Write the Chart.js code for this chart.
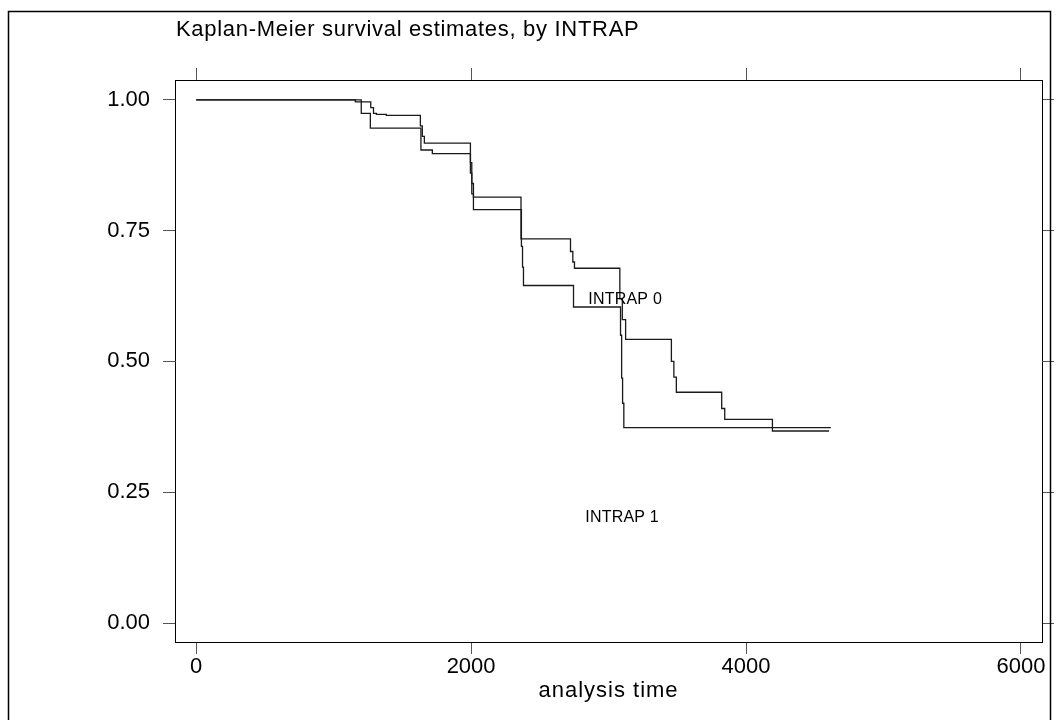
<!DOCTYPE html>
<html lang="en">
<head>
  <meta charset="UTF-8">
  <title>Kaplan-Meier survival estimates</title>
  <style>
    html, body { margin: 0; padding: 0; background: #fff; }
  </style>
</head>
<body>

  <canvas id="myChart" width="1058" height="720"></canvas>

  <script src="https://cdn.jsdelivr.net/npm/chart.js"></script>
  <script>
// survival step data (event time, survival after event)
const timeA = [0, 1201, 1267, 1635, 1718, 1995, 2005, 2017, 2366, 2374, 2381, 2745, 3087, 3095, 3102, 3111, 4617];
const survA = [1.0, 0.974, 0.946, 0.904, 0.897, 0.86, 0.82, 0.790, 0.72, 0.68, 0.645, 0.604, 0.55, 0.468, 0.42, 0.3735, 0.3735];

const timeB = [0, 1158, 1270, 1290, 1311, 1383, 1631, 1645, 1660, 1995, 2005, 2017, 2363, 2723, 2740, 2752, 3082, 3100, 3124, 3457, 3475, 3493, 3823, 3845, 4192, 4604];
const survB = [1.0, 0.996, 0.985, 0.974, 0.972, 0.970, 0.95, 0.93, 0.917, 0.88, 0.84, 0.814, 0.734, 0.71, 0.69, 0.678, 0.62, 0.58, 0.542, 0.50, 0.47, 0.441, 0.41, 0.389, 0.367, 0.367];

const xTicks = [0, 2000, 4000, 6000];
const yTicks = [0, 0.25, 0.5, 0.75, 1];

const groupLabels = ['INTRAP 0', 'INTRAP 1'];
const groupLabelX = [2853, 2831];
const groupLabelY = [0.619, 0.202];

const chartTitle = 'Kaplan-Meier survival estimates, by INTRAP';
const xTitle = 'analysis time';

const FONT = '"Liberation Sans", Arial, sans-serif';

const toPoints = (ts, ss) => ts.map((t, i) => ({ x: t, y: ss[i] }));

const frameAndText = {
    id: 'frameAndText',
    afterDraw: (chart) => {
        const ctx = chart.ctx;
        const xs = chart.scales.x;
        const ys = chart.scales.y;
        const area = chart.chartArea;
        ctx.save();
        // outer frame
        ctx.strokeStyle = '#000';
        ctx.lineWidth = 1.5;
        ctx.strokeRect(8.5, 11.5, 1042, 720);
        // title
        ctx.fillStyle = '#000';
        ctx.font = '22px ' + FONT;
        ctx.letterSpacing = '0.7px';
        ctx.textAlign = 'left';
        ctx.textBaseline = 'alphabetic';
        ctx.fillText(chartTitle, 176, 36);
        // x axis title
        ctx.letterSpacing = '1px';
        ctx.textAlign = 'center';
        ctx.fillText(xTitle, (area.left + area.right) / 2, 697);
        // group labels
        ctx.letterSpacing = '0.2px';
        ctx.font = '16px ' + FONT;
        ctx.textAlign = 'left';
        ctx.textBaseline = 'middle';
        groupLabels.forEach((txt, i) => {
            ctx.fillText(txt, xs.getPixelForValue(groupLabelX[i]), ys.getPixelForValue(groupLabelY[i]));
        });
        ctx.restore();
    }
};

const tickGrid = { drawOnChartArea: false, drawTicks: true, tickLength: 12, color: '#555' };
const boxBorder = { display: true, color: '#000', width: 1 };

const ctx = document.getElementById('myChart').getContext('2d');

const myChart = new Chart(ctx, {
    type: 'line',
    data: {
        datasets: [
            {
                label: 'INTRAP 0',
                data: toPoints(timeA, survA),
                borderColor: '#1a1a1a',
                borderWidth: 1.3,
                stepped: 'before',
                pointRadius: 0,
                fill: false
            },
            {
                label: 'INTRAP 1',
                data: toPoints(timeB, survB),
                borderColor: '#1a1a1a',
                borderWidth: 1.3,
                stepped: 'before',
                pointRadius: 0,
                fill: false
            }
        ]
    },
    options: {
        responsive: false,
        animation: false,
        layout: { padding: { top: 68, right: 4, bottom: 0, left: 0 } },
        scales: {
            x: {
                type: 'linear',
                position: 'bottom',
                min: -154,
                max: 6153,
                afterBuildTicks: (s) => { s.ticks = xTicks.map(v => ({ value: v })); },
                afterFit: (s) => { s.height = 78; },
                grid: tickGrid,
                border: boxBorder,
                ticks: {
                    color: '#000',
                    padding: 0,
                    font: { family: FONT, size: 22 },
                    callback: (v) => String(v)
                }
            },
            x2: {
                type: 'linear',
                position: 'top',
                min: -154,
                max: 6153,
                afterBuildTicks: (s) => { s.ticks = xTicks.map(v => ({ value: v })); },
                afterFit: (s) => { s.height = 12; },
                grid: tickGrid,
                border: boxBorder,
                ticks: { display: false }
            },
            y: {
                type: 'linear',
                position: 'left',
                min: -0.0363,
                max: 1.0378,
                afterBuildTicks: (s) => { s.ticks = yTicks.map(v => ({ value: v })); },
                afterFit: (s) => { s.width = 175; },
                grid: tickGrid,
                border: boxBorder,
                ticks: {
                    color: '#000',
                    padding: 13,
                    font: { family: FONT, size: 22 },
                    callback: (v) => Number(v).toFixed(2)
                }
            },
            y2: {
                type: 'linear',
                position: 'right',
                min: -0.0363,
                max: 1.0378,
                afterBuildTicks: (s) => { s.ticks = yTicks.map(v => ({ value: v })); },
                afterFit: (s) => { s.width = 12; },
                grid: tickGrid,
                border: boxBorder,
                ticks: { display: false }
            }
        },
        plugins: {
            legend: { display: false },
            tooltip: { enabled: false }
        }
    },
    plugins: [frameAndText]
});
  </script>

</body>
</html>
